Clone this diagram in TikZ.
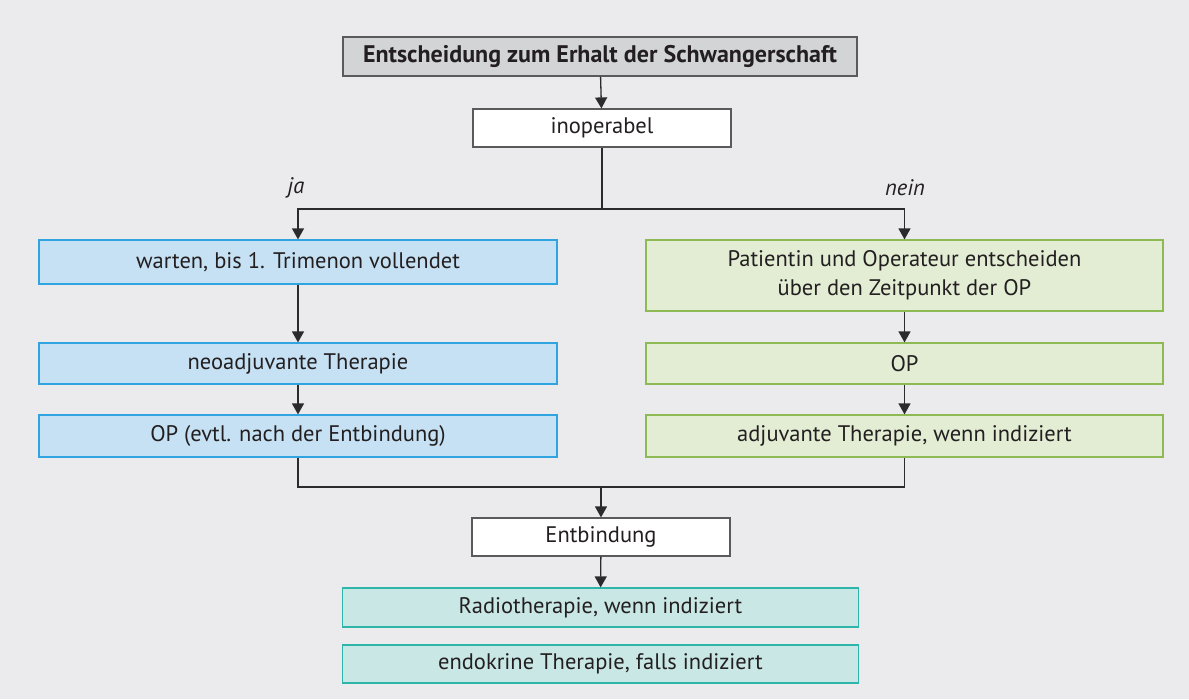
\documentclass[tikz,border=0pt]{standalone}
\usepackage{fontspec}
\setmainfont{PT Sans}
\usetikzlibrary{arrows.meta,positioning}
\definecolor{bggray}{HTML}{EBEBED}
\definecolor{topfill}{HTML}{D3D4D6}
\definecolor{topdraw}{HTML}{5A5A5C}
\definecolor{bluefill}{HTML}{C6E1F4}
\definecolor{bluedraw}{HTML}{2FA4DE}
\definecolor{greenfill}{HTML}{E2EDD4}
\definecolor{greendraw}{HTML}{8DBA52}
\definecolor{tealfill}{HTML}{C9E8E5}
\definecolor{tealdraw}{HTML}{2DB5A9}
\definecolor{linedark}{HTML}{2B2A2C}
\definecolor{textdark}{HTML}{231F20}

\begin{document}
\begin{tikzpicture}[x=1pt,y=-1pt,
      box/.style={draw, line width=1.2pt, inner sep=2pt, text=textdark, align=center, font=\fontsize{22.5}{29}\selectfont},
      graybox/.style={box, fill=topfill, draw=topdraw, font=\fontsize{24}{29}\selectfont\bfseries},
      whitebox/.style={box, fill=white, draw=topdraw},
      bluebox/.style={box, fill=bluefill, draw=bluedraw, minimum width=518pt},
      greenbox/.style={box, fill=greenfill, draw=greendraw, minimum width=517pt},
      tealbox/.style={box, fill=tealfill, draw=tealdraw, minimum width=516pt},
      arr/.style={-{Triangle[length=11pt,width=12pt]}, line width=1.3pt, draw=linedark},
      lin/.style={line width=1.3pt, draw=linedark},
      answer/.style={font=\fontsize{22.5}{29}\selectfont\itshape, text=textdark}
      ]
      \fill[bggray] (0,0) rectangle (1189,699);
      \useasboundingbox (0,0) rectangle (1189,699);

      \node[graybox, minimum width=514pt, minimum height=39pt] (start) at (600,56.5) {Entscheidung zum Erhalt der Schwangerschaft};
      \node[whitebox, minimum width=258pt, minimum height=38pt] (inop) at (602,128) {inoperabel};
      \node[answer] (ja) at (296,188) {ja};
      \node[answer] (nein) at (905,188) {nein};

      \node[bluebox, minimum height=44pt] (warten) at (298,262) {warten, bis 1. Trimenon vollendet};
      \node[bluebox, minimum height=41pt] (neoadj) at (298,363.5) {neoadjuvante Therapie};
      \node[bluebox, minimum height=42pt] (opl) at (298,436) {OP (evtl. nach der Entbindung)};

      \node[greenbox, minimum height=71pt] (entsch) at (904.5,275.5) {Patientin und Operateur entscheiden\\über den Zeitpunkt der OP};
      \node[greenbox, minimum height=41pt] (opr) at (904.5,363.5) {OP};
      \node[greenbox, minimum height=42pt] (adj) at (904.5,436) {adjuvante Therapie, wenn indiziert};

      \node[whitebox, minimum width=258pt, minimum height=38pt] (entb) at (601,537) {Entbindung};
      \node[tealbox, minimum height=39pt] (radio) at (600.5,607.5) {Radiotherapie, wenn indiziert};
      \node[tealbox, minimum height=38pt] (endo) at (600.5,664) {endokrine Therapie, falls indiziert};

      \coordinate (split) at (inop.south |- 0,209);
      \coordinate (merge) at (entb.north |- 0,487);

      \draw[arr] (start) -- (inop);
      \draw[lin] (inop.south) -- (split);
      \draw[arr] (split) -| (warten.north);
      \draw[arr] (split) -| (entsch.north);
      \draw[arr] (warten) -- (neoadj);
      \draw[arr] (neoadj) -- (opl);
      \draw[arr] (entsch) -- (opr);
      \draw[arr] (opr) -- (adj);
      \draw[lin] (opl.south) |- (merge) -| (adj.south);
      \draw[arr] (merge) -- (entb.north);
      \draw[arr] (entb) -- (radio);
    \end{tikzpicture}
\end{document}
